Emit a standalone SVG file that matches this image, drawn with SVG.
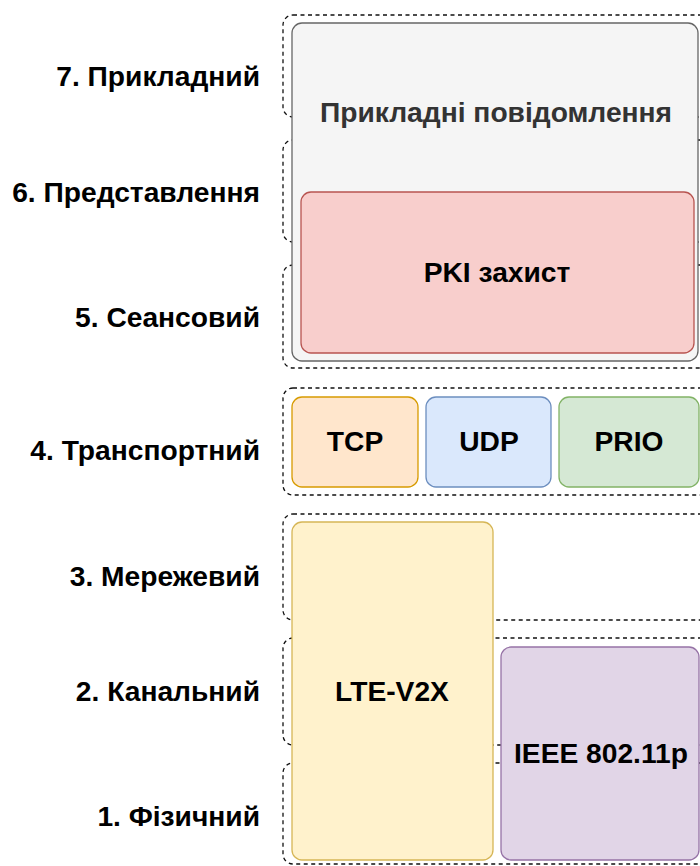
<svg xmlns="http://www.w3.org/2000/svg" width="700" height="866" viewBox="0 0 700 866">
<style>
text{font-family:"Liberation Sans",Arial,"Noto Sans",sans-serif;font-weight:bold;font-size:28.2px;fill:#000}
.lbl{text-anchor:end}
.c{text-anchor:middle}
.layer{fill:none;stroke:#111;stroke-width:1.3;stroke-dasharray:4 3.5}
.box{stroke-width:1.3}
</style>
<rect width="700" height="866" fill="#fff"/>
<g id="layers">
<g id="layer7"><rect class="layer" x="283" y="15" width="440" height="102" rx="10"/><text class="lbl" x="260" y="86">7. Прикладний</text></g>
<g id="layer6"><rect class="layer" x="283" y="140" width="440" height="102" rx="10"/><text class="lbl" x="260" y="202">6. Представлення</text></g>
<g id="layer5"><rect class="layer" x="283" y="265" width="440" height="103" rx="10"/><text class="lbl" x="260" y="327">5. Сеансовий</text></g>
<g id="layer4"><rect class="layer" x="283" y="388" width="440" height="107" rx="10"/><text class="lbl" x="260" y="460">4. Транспортний</text></g>
<g id="layer3"><rect class="layer" x="283" y="514" width="440" height="106" rx="10"/><text class="lbl" x="260" y="586">3. Мережевий</text></g>
<g id="layer2"><rect class="layer" x="283" y="638" width="440" height="107" rx="10"/><text class="lbl" x="260" y="701">2. Канальний</text></g>
<g id="layer1"><rect class="layer" x="283" y="763" width="440" height="101" rx="10"/><text class="lbl" x="260" y="826">1. Фізичний</text></g>
</g>
<g id="app-messages"><rect class="box" x="292" y="23" width="406" height="338" rx="10" fill="#f5f5f5" stroke="#666666"/><text class="c" x="496" y="122" style="fill:#333333">Прикладні повідомлення</text></g>
<g id="pki"><rect class="box" x="301" y="192" width="393" height="161" rx="10" fill="#f8cecc" stroke="#b85450"/><text class="c" x="497" y="282">PKI захист</text></g>
<g id="tcp"><rect class="box" x="292" y="397" width="126" height="90" rx="10" fill="#ffe6cc" stroke="#d79b00"/><text class="c" x="355" y="451">TCP</text></g>
<g id="udp"><rect class="box" x="426" y="397" width="125" height="90" rx="10" fill="#dae8fc" stroke="#6c8ebf"/><text class="c" x="489" y="451">UDP</text></g>
<g id="prio"><rect class="box" x="559" y="397" width="140" height="90" rx="10" fill="#d5e8d4" stroke="#82b366"/><text class="c" x="629" y="451">PRIO</text></g>
<g id="lte"><rect class="box" x="292" y="522" width="201" height="338" rx="10" fill="#fff2cc" stroke="#d6b656"/><text class="c" x="392" y="701">LTE-V2X</text></g>
<g id="ieee"><rect class="box" x="501" y="647" width="198" height="213" rx="10" fill="#e1d5e7" stroke="#9673a6"/><text class="c" x="601" y="763">IEEE 802.11p</text></g>
<g id="connectors"></g>
</svg>
